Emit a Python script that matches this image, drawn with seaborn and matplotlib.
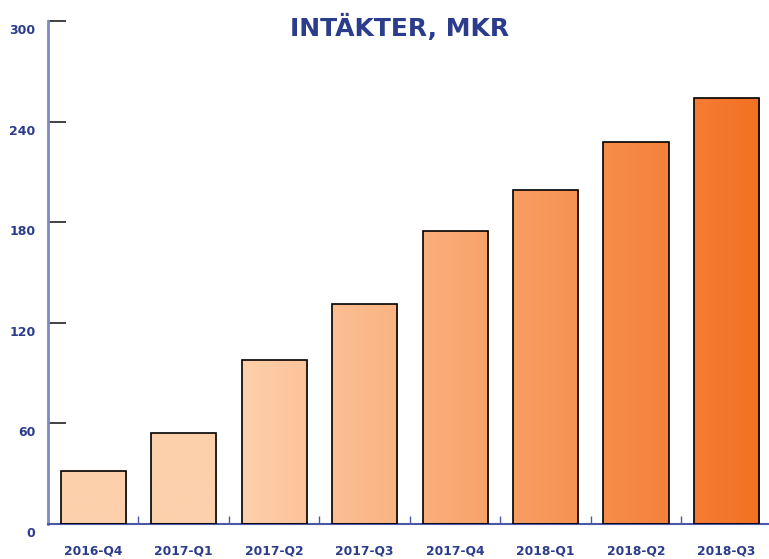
import matplotlib
matplotlib.use("Agg")
import matplotlib.pyplot as plt
import matplotlib.transforms as mtransforms
from matplotlib.colors import to_rgb
import numpy as np
import seaborn as sns
import pandas as pd

quarters = ["2016-Q4", "2017-Q1", "2017-Q2", "2017-Q3", "2017-Q4", "2018-Q1", "2018-Q2", "2018-Q3"]
revenue = [31.5, 54.5, 98, 131, 175, 199, 228, 254]
yticks = [0, 60, 120, 180, 240, 300]
title = "INTÄKTER, MKR"

NAVY = "#2B3C8C"
LIGHT = np.array(to_rgb("#FDD0AC"))
DARK = np.array(to_rgb("#F37021"))

sns.set_theme(style="white")
plt.rcParams["font.family"] = ["DejaVu Sans"]

W, H = 769, 559
fig = plt.figure(figsize=(W / 100, H / 100), dpi=100)
ax = fig.add_axes([48 / W, 35 / H, 721 / W, 503 / H])

df = pd.DataFrame({"q": quarters, "v": revenue})
sns.barplot(data=df, x="q", y="v", ax=ax, width=0.72, color="#F8A060",
            edgecolor="black", linewidth=1.2, saturation=1)

def col_at(x):
    t = np.clip((x - 1.6) / (7.4 - 1.6), 0, 1)
    return LIGHT + (DARK - LIGHT) * t

for p in ax.patches:
    x0 = p.get_x(); w = p.get_width(); h = p.get_height()
    xs = np.linspace(x0, x0 + w, 40)
    img = np.array([[col_at(x) for x in xs]])
    im = ax.imshow(img, extent=(x0, x0 + w, 0, h), aspect="auto", zorder=2,
                   interpolation="bilinear")
    im.set_clip_path(p)
    p.set_facecolor("none")
    p.set_zorder(3)

ax.set_xlim(-0.5, 7.47)
ax.set_ylim(0, 300)

for s in ["top", "right"]:
    ax.spines[s].set_visible(False)
ax.spines["left"].set_color("#8089C0")
ax.spines["left"].set_linewidth(2)
ax.spines["bottom"].set_color("#4A58A5")
ax.spines["bottom"].set_linewidth(1.5)

ax.set_yticks(yticks)
ax.set_yticklabels([str(v) for v in yticks])
ax.tick_params(axis="y", direction="in", length=13, width=1.3, color="#333333",
               pad=9, labelsize=9, labelcolor=NAVY, left=True)
for lab in ax.get_yticklabels():
    lab.set_fontweight("bold")
    lab.set_transform(lab.get_transform() + mtransforms.ScaledTranslation(0, -8 / 100, fig.dpi_scale_trans))

ax.set_xticks(range(len(quarters)))
ax.set_xticklabels(quarters)
ax.set_xticks([i + 0.5 for i in range(len(quarters) - 1)], minor=True)
ax.tick_params(axis="x", which="major", length=0, pad=15, labelsize=8.8, labelcolor=NAVY)
ax.tick_params(axis="x", which="minor", direction="in", length=6, width=1, color="#4A58A5", bottom=True)
for lab in ax.get_xticklabels():
    lab.set_fontweight("bold")

ax.set_xlabel("")
ax.set_ylabel("")
ax.grid(False)

fig.text(400 / W, 1 - 27 / H, title, ha="center", va="center", fontsize=18,
         fontweight="bold", color=NAVY)

fig.savefig("out.png", dpi=100)
